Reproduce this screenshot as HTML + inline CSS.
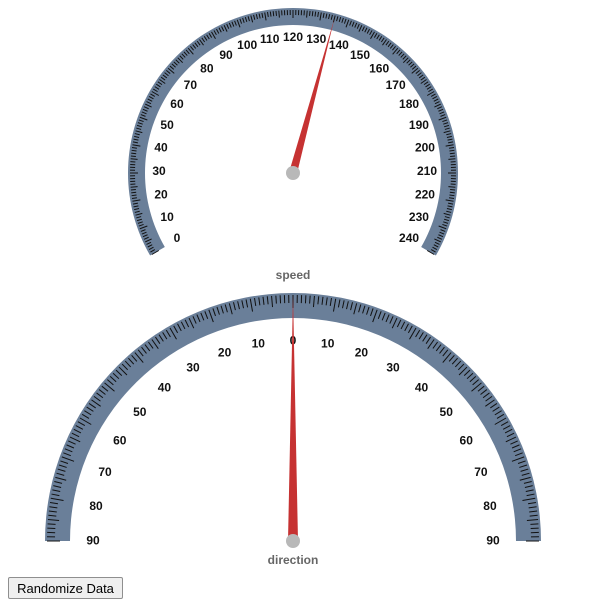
<!DOCTYPE html>
<html><head><meta charset="utf-8"><style>
body{margin:0;background:#fff;font-family:"Liberation Sans",sans-serif;width:591px;height:607px;overflow:hidden;position:relative}
svg{position:absolute;left:0;top:0}
button{position:absolute;left:8px;top:577px;width:115px;height:22px;font:13px "Liberation Sans",sans-serif;background:#efefef;border:1px solid #8f8f8f;border-radius:2px;padding:0}
</style></head><body>
<svg width="591" height="607">
<g id="speed"></g>
<g id="dir"></g>
</svg>
<button>Randomize Data</button>
<script>
const speedValue = [135];
const directionValue = [0];
const speedMin = 0, speedMax = 240;
const dirMin = -90, dirMax = 90;
const NS = "http://www.w3.org/2000/svg";
function mk(t, a, p){const e=document.createElementNS(NS,t);for(const k in a)e.setAttribute(k,a[k]);p.appendChild(e);return e;}
function gauge(g, cx, cy, rOut, rIn, a0, a1, vmin, vmax, value, labelR, labelFn, title, titleY, tickLen, majLen, needleW, needleR, fontSize, yOff){
  const ang = v => (a0 + (v - vmin) / (vmax - vmin) * (a1 - a0)) * Math.PI / 180;
  const pt = (v, r) => [cx + r * Math.sin(ang(v)), cy - r * Math.cos(ang(v))];
  const p1 = pt(vmin, rOut), p2 = pt(vmax, rOut), p3 = pt(vmax, rIn), p4 = pt(vmin, rIn);
  const large = (a1 - a0) > 180 ? 1 : 0;
  const band = mk('path', {d:`M${p1}A${rOut},${rOut} 0 ${large} 1 ${p2}L${p3}A${rIn},${rIn} 0 ${large} 0 ${p4}Z`, fill:'#6a7f99'}, g);
  
  
  for (let v = vmin; v <= vmax; v++) {
    const len = v % 10 === 0 ? majLen : (v % 5 === 0 ? tickLen * 1.4 : tickLen);
    const a = pt(v, rOut - 2), b = pt(v, rOut - 2 - len);
    const t = mk('line', {x1:a[0], y1:a[1], x2:b[0], y2:b[1], stroke:'#111', 'stroke-width':1}, g);
    
    
    if (v % 10 === 0) {
      const lp = pt(v, labelR);
      const tx = mk('text', {x:lp[0], y:lp[1] + yOff, 'text-anchor':'middle', 'font-size':fontSize, 'font-weight':'bold', fill:'#111'}, g);
      tx.textContent = labelFn(v);
      
      
    }
  }
  const tip = pt(value, needleR);
  const an = ang(value);
  const px = Math.cos(an) * needleW / 2, py = Math.sin(an) * needleW / 2;
  const n = mk('polygon', {points:`${cx - px},${cy - py} ${tip[0]},${tip[1]} ${cx + px},${cy + py}`, fill:'#c63232'}, g);
  
  
  const c = mk('circle', {cx:cx, cy:cy, r:7, fill:'#b8b8b8'}, g);
  
  
  const tt = mk('text', {x:cx, y:titleY, 'text-anchor':'middle', 'font-size':12, 'font-weight':'bold', fill:'#666'}, g);
  tt.textContent = title;
  
  
}
gauge(document.getElementById('speed'), 293, 173, 165, 148, -120, 120, speedMin, speedMax, speedValue[0], 134, v => v, 'speed', 279, 5, 8, 8, 160, 12, 2);
gauge(document.getElementById('dir'), 293, 541, 248, 223, -90, 90, dirMin, dirMax, directionValue[0], 200, v => Math.abs(v), 'direction', 564, 8, 13, 10, 246, 12, 3.5);
</script>
</body></html>
